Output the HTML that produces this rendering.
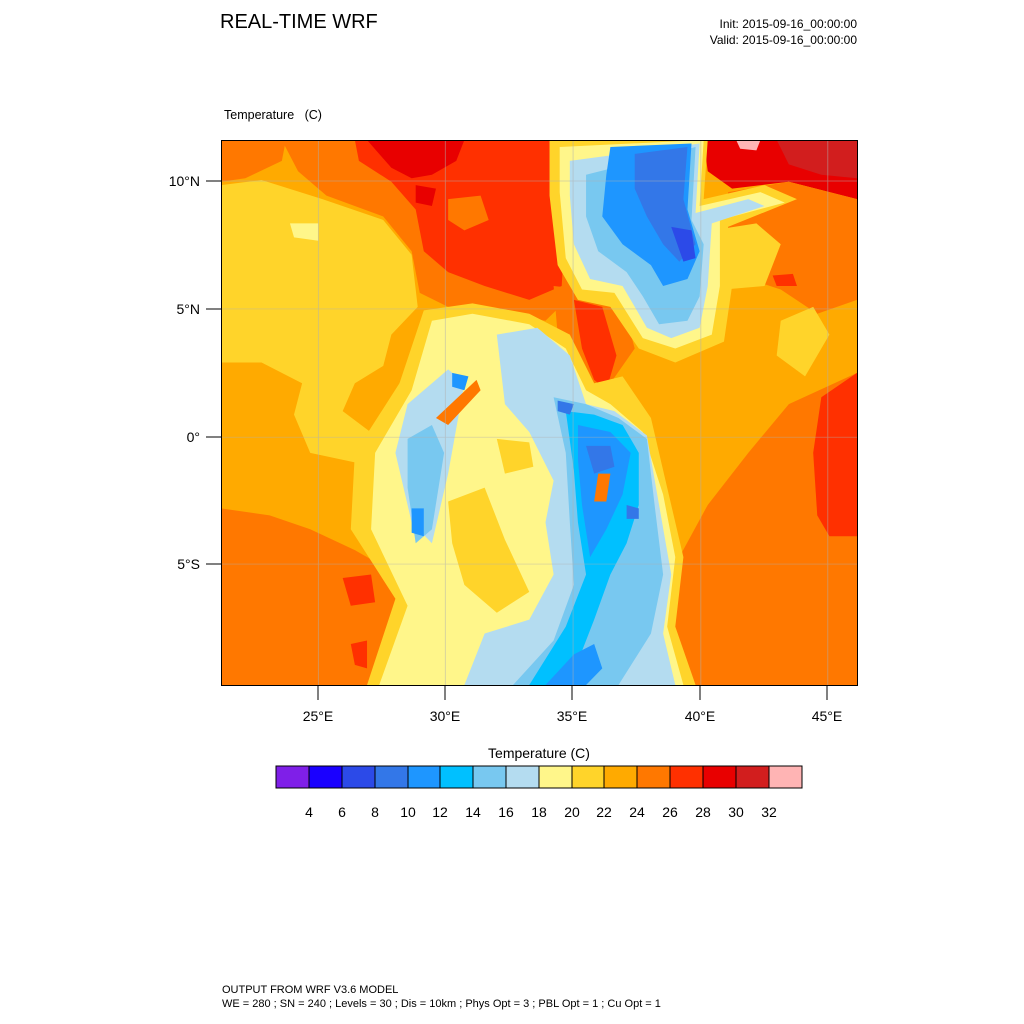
<!DOCTYPE html>
<html><head><meta charset="utf-8"><style>
body{margin:0;background:#fff;width:1024px;height:1024px;position:relative;overflow:hidden;font-family:"Liberation Sans",sans-serif;color:#000}
.t{position:absolute;white-space:nowrap}
</style></head><body>
<div class="t" style="left:220px;top:11px;font-size:20px">REAL-TIME WRF</div>
<div class="t" style="right:167px;top:16px;font-size:12px;text-align:right;line-height:16px">Init: 2015-09-16_00:00:00<br>Valid: 2015-09-16_00:00:00</div>
<div class="t" style="left:224px;top:108px;font-size:12.5px">Temperature &nbsp; (C)</div>

<svg style="position:absolute;left:221px;top:140px" width="636" height="545" viewBox="0 0 1568 1568" preserveAspectRatio="none">
<g stroke-linejoin="round">
<rect width="1568" height="1568" fill="#ffaa00"/>
<!-- yellow west -->
<path fill="#ffd42a" d="M0,130 L100,115 L250,170 L400,230 L470,330 L485,480 L420,560 L400,650 L330,700 L300,780 L380,850 L440,900 L340,930 L220,900 L180,790 L200,700 L100,640 L0,640Z"/>
<path fill="#fff68a" d="M170,240 L240,240 L240,290 L180,280Z"/>
<!-- NW orange -->
<path fill="#ff7800" d="M0,0 L160,0 L150,60 L60,110 L0,120Z"/>
<!-- north band -->
<path fill="#ff7800" d="M150,0 L850,0 L880,250 L870,440 L800,520 L700,500 L560,480 L490,440 L470,320 L400,220 L260,160 L190,90Z"/>
<path fill="#ff3000" d="M330,0 L830,0 L850,200 L840,420 L760,460 L650,420 L560,380 L500,320 L480,200 L420,120 L340,60Z"/>
<path fill="#e80000" d="M360,0 L600,0 L580,60 L520,100 L470,110 L420,80Z"/>
<path fill="#ff7800" d="M560,170 L640,160 L660,230 L600,260 L560,230Z"/>
<path fill="#e80000" d="M480,130 L530,140 L520,190 L480,180Z"/>
<!-- rift red -->
<path fill="#ff7800" d="M820,420 L900,430 L990,470 L1020,600 L960,700 L920,820 L880,700 L830,560Z"/>
<path fill="#ff3000" d="M870,460 L940,480 L975,620 L950,720 L920,690 L890,600Z"/>
<!-- NE -->
<path fill="#e80000" d="M1190,0 L1568,0 L1568,170 L1400,120 L1260,140 L1200,90Z"/>
<path fill="#d21e1e" d="M1370,0 L1568,0 L1568,110 L1480,100 L1400,70Z"/>
<path fill="#ffb4b4" d="M1270,0 L1330,0 L1320,30 L1280,25Z"/>
<path fill="#ff7800" d="M1250,150 L1400,120 L1568,170 L1568,460 L1470,500 L1380,430 L1300,400 L1250,300Z"/>
<path fill="#ffd42a" d="M1210,260 L1320,240 L1380,300 L1340,420 L1240,430Z"/>
<path fill="#ffd42a" d="M1380,520 L1460,480 L1500,560 L1440,680 L1370,620Z"/>
<path fill="#ff3000" d="M1360,390 L1410,385 L1420,420 L1370,420Z"/>
<!-- east coast -->
<path fill="#ff7800" d="M1568,670 L1400,760 L1300,900 L1200,1050 L1130,1200 L1110,1400 L1140,1568 L1568,1568Z"/>
<path fill="#ff3000" d="M1568,670 L1480,740 L1460,900 L1470,1080 L1500,1140 L1568,1140Z"/>
<!-- SW -->
<path fill="#ff7800" d="M0,1060 L120,1080 L220,1120 L330,1180 L420,1240 L470,1360 L380,1568 L0,1568Z"/>
<path fill="#ff3000" d="M300,1260 L370,1250 L380,1330 L320,1340Z"/>
<path fill="#ff3000" d="M320,1450 L360,1440 L360,1520 L330,1510Z"/>
<!-- Ethiopian highlands -->
<path fill="#ffd42a" d="M810,0 L1200,0 L1190,170 L1340,130 L1420,170 L1250,250 L1260,420 L1240,580 L1120,640 L1030,600 L960,480 L880,460 L830,360 L810,160Z"/>
<path fill="#fff68a" d="M835,20 L1190,0 L1180,190 L1330,150 L1390,180 L1230,230 L1230,420 L1210,560 L1120,600 L1040,570 L970,440 L890,430 L850,340 L835,150Z"/>
<path fill="#b4dcf0" d="M860,60 L1180,10 L1170,210 L1300,170 L1340,190 L1210,240 L1200,420 L1180,540 L1110,570 L1050,540 L990,420 L910,400 L870,300 L860,160Z"/>
<path fill="#78c8f0" d="M900,100 L1170,20 L1160,230 L1190,300 L1180,450 L1150,520 L1080,530 L1040,450 L1000,380 L930,320 L900,220Z"/>
<path fill="#1e96ff" d="M960,20 L1160,10 L1150,200 L1180,320 L1150,400 L1090,420 L1060,360 L990,300 L940,220 L950,100Z"/>
<path fill="#3377e8" d="M1020,40 L1150,20 L1140,170 L1170,300 L1130,350 L1090,300 L1050,220 L1020,140Z"/>
<path fill="#2c4ae8" d="M1110,250 L1160,260 L1170,340 L1140,350Z"/>
<!-- central East Africa -->
<path fill="#ffd42a" d="M500,490 L620,470 L760,500 L860,560 L920,700 L990,680 L1060,800 L1100,1000 L1140,1200 L1120,1400 L1170,1568 L360,1568 L430,1320 L320,1120 L330,900 L440,700Z"/>
<path fill="#fff68a" d="M520,520 L620,500 L760,530 L850,600 L900,720 L960,760 L1040,840 L1090,1020 L1120,1200 L1100,1400 L1140,1568 L390,1568 L460,1340 L370,1120 L380,900 L470,720Z"/>
<path fill="#ffd42a" d="M560,1040 L650,1000 L700,1150 L760,1300 L680,1360 L600,1280 L570,1160Z"/>
<path fill="#ffd42a" d="M680,860 L760,870 L770,940 L700,960Z"/>
<path fill="#b4dcf0" d="M680,560 L780,540 L860,620 L900,760 L970,780 L1050,850 L1080,1050 L1110,1250 L1090,1420 L1120,1568 L600,1568 L650,1420 L760,1380 L820,1250 L800,1100 L820,980 L760,840 L700,760Z"/>
<path fill="#b4dcf0" d="M460,760 L560,660 L600,700 L560,960 L520,1160 L470,1100 L430,900Z"/>
<path fill="#78c8f0" d="M820,740 L900,760 L980,800 L1050,860 L1070,1060 L1090,1250 L1060,1420 L980,1568 L720,1568 L820,1440 L870,1280 L860,1100 L850,900Z"/>
<path fill="#78c8f0" d="M460,860 L520,820 L550,900 L520,1120 L480,1160 L460,1000Z"/>
<path fill="#00c0ff" d="M850,780 L920,790 L990,820 L1030,900 L1030,1050 L1000,1160 L960,1250 L920,1380 L880,1500 L820,1568 L760,1568 L850,1400 L900,1250 L880,1100 L870,950Z"/>
<path fill="#1e96ff" d="M880,820 L960,840 L1010,900 L990,1020 L950,1120 L910,1200 L890,1050 L880,920Z"/>
<path fill="#1e96ff" d="M870,1480 L920,1450 L940,1520 L900,1568 L800,1568Z"/>
<path fill="#1e96ff" d="M470,1060 L500,1060 L500,1140 L470,1130Z"/>
<path fill="#1e96ff" d="M570,670 L610,680 L600,720 L570,710Z"/>
<path fill="#3377e8" d="M830,750 L870,760 L860,790 L830,780Z"/>
<path fill="#3377e8" d="M900,880 L960,880 L970,940 L920,960Z"/>
<path fill="#3377e8" d="M1000,1050 L1030,1060 L1030,1090 L1000,1090Z"/>
<path fill="#ff7800" d="M930,960 L960,960 L950,1040 L920,1040Z"/>
<path fill="#ff7800" d="M530,800 L630,690 L640,720 L560,820Z"/>
</g>
<g stroke="#b0b0b0" stroke-width="2" opacity="0.6">
<line x1="240" y1="0" x2="240" y2="1568"/><line x1="553" y1="0" x2="553" y2="1568"/><line x1="868" y1="0" x2="868" y2="1568"/><line x1="1183" y1="0" x2="1183" y2="1568"/><line x1="1496" y1="0" x2="1496" y2="1568"/>
<line x1="0" y1="118" x2="1568" y2="118"/><line x1="0" y1="486" x2="1568" y2="486"/><line x1="0" y1="855" x2="1568" y2="855"/><line x1="0" y1="1220" x2="1568" y2="1220"/>
</g>
</svg>
<svg style="position:absolute;left:0;top:0" width="1024" height="1024">
<rect x="221.5" y="140.5" width="636" height="545" fill="none" stroke="#000" stroke-width="1"/>
<g stroke="#000">
<line x1="206" y1="181" x2="221" y2="181"/><line x1="206" y1="309" x2="221" y2="309"/><line x1="206" y1="437" x2="221" y2="437"/><line x1="206" y1="564" x2="221" y2="564"/>
<line x1="318" y1="685" x2="318" y2="700"/><line x1="445" y1="685" x2="445" y2="700"/><line x1="572" y1="685" x2="572" y2="700"/><line x1="700" y1="685" x2="700" y2="700"/><line x1="827" y1="685" x2="827" y2="700"/>
</g>
<g font-family="Liberation Sans,sans-serif" font-size="14" text-anchor="end">
<text x="200" y="186">10°N</text><text x="200" y="314">5°N</text><text x="200" y="442">0°</text><text x="200" y="569">5°S</text>
</g>
<g font-family="Liberation Sans,sans-serif" font-size="14" text-anchor="middle">
<text x="318" y="721">25°E</text><text x="445" y="721">30°E</text><text x="572" y="721">35°E</text><text x="700" y="721">40°E</text><text x="827" y="721">45°E</text>
<text x="539" y="758">Temperature  (C)</text>
</g>
<g stroke="#000" stroke-width="1">
<rect x="276" y="766" width="33" height="22" fill="#7f1fe8"/>
<rect x="309" y="766" width="33" height="22" fill="#1a00ff"/>
<rect x="342" y="766" width="33" height="22" fill="#2c4ae8"/>
<rect x="375" y="766" width="33" height="22" fill="#3377e8"/>
<rect x="408" y="766" width="32" height="22" fill="#1e96ff"/>
<rect x="440" y="766" width="33" height="22" fill="#00c0ff"/>
<rect x="473" y="766" width="33" height="22" fill="#78c8f0"/>
<rect x="506" y="766" width="33" height="22" fill="#b4dcf0"/>
<rect x="539" y="766" width="33" height="22" fill="#fff68a"/>
<rect x="572" y="766" width="32" height="22" fill="#ffd42a"/>
<rect x="604" y="766" width="33" height="22" fill="#ffaa00"/>
<rect x="637" y="766" width="33" height="22" fill="#ff7800"/>
<rect x="670" y="766" width="33" height="22" fill="#ff3000"/>
<rect x="703" y="766" width="33" height="22" fill="#e80000"/>
<rect x="736" y="766" width="33" height="22" fill="#d21e1e"/>
<rect x="769" y="766" width="33" height="22" fill="#ffb4b4"/>
</g>
<g font-family="Liberation Sans,sans-serif" font-size="14" text-anchor="middle">
<text x="309" y="817">4</text><text x="342" y="817">6</text><text x="375" y="817">8</text><text x="408" y="817">10</text><text x="440" y="817">12</text><text x="473" y="817">14</text><text x="506" y="817">16</text><text x="539" y="817">18</text><text x="572" y="817">20</text><text x="604" y="817">22</text><text x="637" y="817">24</text><text x="670" y="817">26</text><text x="703" y="817">28</text><text x="736" y="817">30</text><text x="769" y="817">32</text>
</g>
</svg>
<div class="t" style="left:222px;top:983px;font-size:11px;line-height:14px">OUTPUT FROM WRF V3.6 MODEL<br>WE = 280 ; SN = 240 ; Levels = 30 ; Dis = 10km ; Phys Opt = 3 ; PBL Opt = 1 ; Cu Opt = 1</div>
</body></html>
